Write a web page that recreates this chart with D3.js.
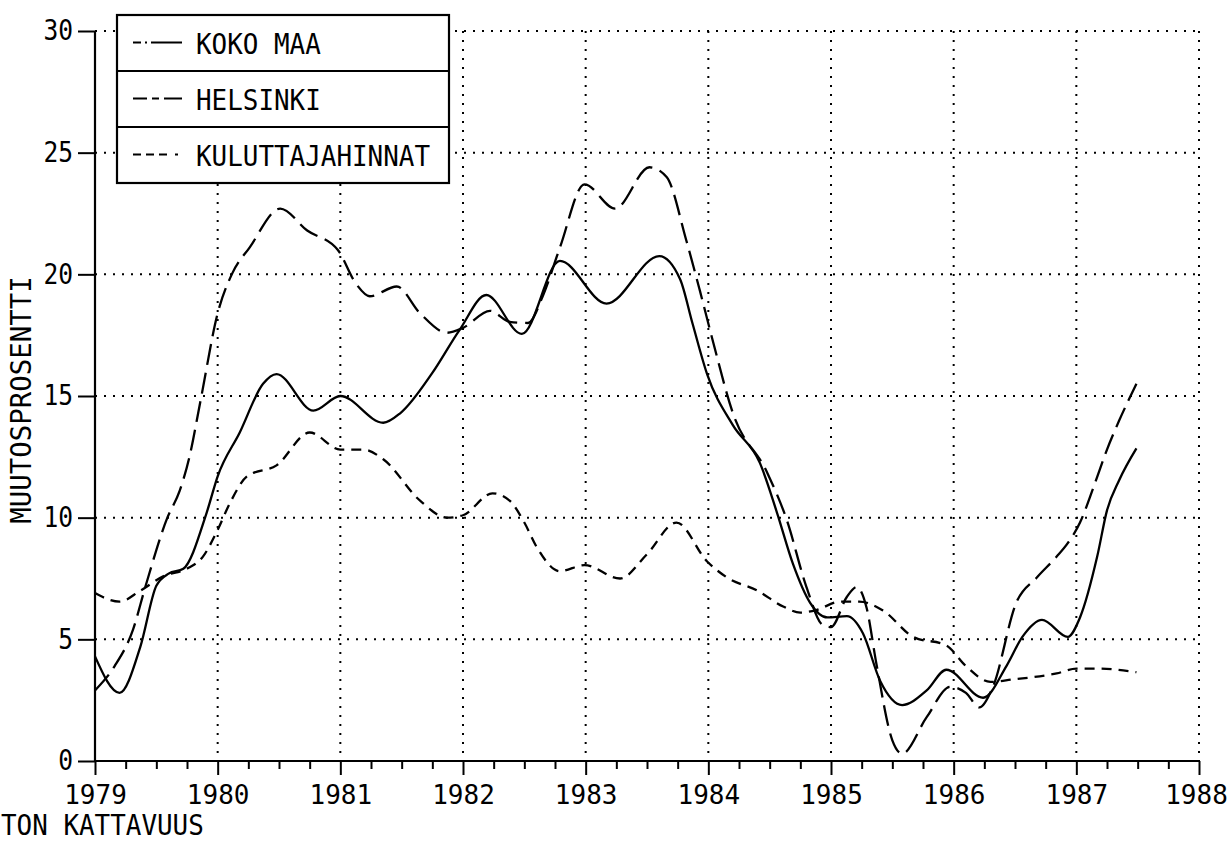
<!DOCTYPE html>
<html><head><meta charset="utf-8">
<script src="https://cdn.jsdelivr.net/npm/d3@7"></script>
<style>
html,body{margin:0;padding:0;background:#fff;}
svg text{font-family:'DejaVu Sans Mono',monospace;fill:#000;}
</style></head>
<body><svg id="c" width="1231" height="855"></svg>
<script>
// ---- data ----
const yearTicks = [1979,1980,1981,1982,1983,1984,1985,1986,1987,1988];
const valueTicks = [0,5,10,15,20,25,30];
const seriesNames = ["KOKO MAA","HELSINKI","KULUTTAJAHINNAT"];

const kokoX = [1979.0,1979.2,1979.37,1979.5,1979.6,1979.72,1979.91,1980.0,1980.18,1980.37,1980.48,1980.78,1981.0,1981.35,1981.49,1981.75,1981.97,1982.19,1982.48,1982.79,1983.17,1983.6,1983.77,1983.87,1983.99,1984.2,1984.42,1984.56,1984.69,1984.83,1984.97,1985.13,1985.26,1985.4,1985.58,1985.78,1985.94,1986.24,1986.43,1986.56,1986.72,1986.93,1987.03,1987.17,1987.25,1987.35,1987.49];
const kokoY = [4.3,2.8,4.7,7.2,7.7,7.9,10.2,11.7,13.5,15.5,15.9,14.4,15.0,13.9,14.3,15.95,17.7,19.15,17.55,20.55,18.8,20.75,19.8,18.0,15.9,13.8,12.25,10.2,8.1,6.5,5.9,5.95,5.25,3.3,2.3,2.9,3.75,2.6,3.9,5.1,5.8,5.1,5.9,8.4,10.3,11.55,12.85];

const helX = [1979.0,1979.16,1979.31,1979.41,1979.59,1979.69,1979.77,1979.86,1980.0,1980.12,1980.26,1980.51,1980.73,1980.98,1981.13,1981.24,1981.46,1981.65,1981.87,1982.0,1982.22,1982.38,1982.53,1982.65,1982.79,1982.99,1983.24,1983.52,1983.66,1983.82,1983.93,1984.04,1984.2,1984.48,1984.64,1984.8,1984.93,1985.0,1985.13,1985.21,1985.29,1985.37,1985.5,1985.58,1985.78,1985.97,1986.1,1986.21,1986.32,1986.51,1986.68,1986.84,1986.93,1987.03,1987.14,1987.25,1987.35,1987.49];
const helY = [2.9,3.9,5.4,7.15,10.0,11.1,12.5,14.8,18.4,20.05,21.1,22.7,21.8,21.0,19.6,19.1,19.5,18.4,17.6,17.8,18.5,18.05,18.0,19.1,21.1,23.7,22.7,24.4,24.0,21.4,19.35,17.2,14.3,11.85,9.9,7.15,5.6,5.5,6.75,7.15,6.3,4.0,0.85,0.3,1.8,3.05,2.8,2.2,3.05,6.5,7.55,8.4,8.95,9.8,11.25,12.8,14.0,15.5];

const kulX = [1979.0,1979.2,1979.37,1979.56,1979.75,1979.88,1980.0,1980.1,1980.24,1980.48,1980.75,1981.0,1981.19,1981.35,1981.65,1981.87,1982.0,1982.24,1982.38,1982.5,1982.6,1982.79,1982.99,1983.28,1983.5,1983.74,1983.99,1984.15,1984.4,1984.61,1984.75,1984.88,1985.07,1985.23,1985.42,1985.67,1985.94,1986.1,1986.3,1986.48,1986.84,1987.0,1987.17,1987.49];
const kulY = [6.9,6.55,7.0,7.6,7.9,8.4,9.5,10.6,11.7,12.15,13.5,12.8,12.8,12.4,10.7,10.0,10.1,11.0,10.7,9.8,8.8,7.8,8.05,7.5,8.5,9.8,8.2,7.55,7.0,6.35,6.1,6.2,6.55,6.55,6.2,5.1,4.75,3.9,3.25,3.35,3.6,3.8,3.8,3.65];

const bottomNote = "TON KATTAVUUS";
const yTitle = "MUUTOSPROSENTTI";

// ---- drawing ----
const svg = d3.select("#c");
const x = d3.scaleLinear().domain([1979,1988]).range([95,1199]);
const y = d3.scaleLinear().domain([0,30]).range([761,31]);
const CH = 15.6; // character advance of the plotter font

// grid
const grid = svg.append("g").attr("stroke","#000").attr("stroke-width",2).attr("stroke-dasharray","2,7").attr("fill","none");
yearTicks.slice(1).forEach(t=>{
  grid.append("line").attr("x1",x(t)).attr("x2",x(t)).attr("y1",y(30)).attr("y2",y(0));
});
valueTicks.slice(1).forEach(v=>{
  grid.append("line").attr("x1",x(1979)).attr("x2",x(1988)).attr("y1",y(v)).attr("y2",y(v));
});

// series
const line = d3.line().x(d=>x(d[0])).y(d=>y(d[1])).curve(d3.curveMonotoneX);
const series = [
  {pts:d3.zip(kokoX,kokoY), dash:null},
  {pts:d3.zip(helX,helY), dash:"21,8"},
  {pts:d3.zip(kulX,kulY), dash:"10,7"}
];
series.forEach(s=>{
  svg.append("path").attr("d",line(s.pts)).attr("fill","none").attr("stroke","#000")
    .attr("stroke-width",2.3).attr("stroke-dasharray",s.dash).attr("stroke-linecap","butt");
});

// axes
const xAxis = svg.append("g").attr("transform",`translate(0,${y(0)})`)
  .call(d3.axisBottom(x).tickValues(yearTicks).tickFormat(d3.format("d")).tickSize(14).tickPadding(3));
const minor = [];
for(let yr=1979; yr<1988; yr++){ [0.25,0.5,0.75].forEach(q=>minor.push(yr+q)); }
svg.append("g").attr("transform",`translate(0,${y(0)})`)
  .call(d3.axisBottom(x).tickValues(minor).tickFormat("").tickSize(8))
  .call(g=>g.select(".domain").remove());
const yAxis = svg.append("g").attr("transform",`translate(${x(1979)},0)`)
  .call(d3.axisLeft(y).tickValues(valueTicks).tickSize(17).tickPadding(5));
xAxis.select(".domain").remove(); yAxis.select(".domain").remove();
svg.append("line").attr("x1",x(1979)).attr("x2",x(1988)).attr("y1",y(0)).attr("y2",y(0)).attr("stroke","#000").attr("stroke-width",2.2);
svg.append("line").attr("x1",x(1979)).attr("x2",x(1979)).attr("y1",y(30)).attr("y2",y(0)).attr("stroke","#000").attr("stroke-width",2.2);
svg.selectAll(".tick line").attr("stroke","#000").attr("stroke-width",2);
yAxis.selectAll(".tick text").attr("font-size",28).attr("font-family","'DejaVu Sans Mono',monospace").attr("fill","#000")
  .attr("textLength",function(){return this.textContent.length*14.8;}).attr("lengthAdjust","spacingAndGlyphs");
xAxis.selectAll(".tick text").attr("font-size",26).attr("font-family","'DejaVu Sans Mono',monospace").attr("fill","#000")
  .attr("dy","1.0em").attr("dx",d=>d===1988?-3:0);

// y title
svg.append("text").attr("transform",`translate(31,400) rotate(-90)`).attr("text-anchor","middle")
  .attr("font-size",28).attr("textLength",yTitle.length*16.5).attr("lengthAdjust","spacingAndGlyphs").text(yTitle);

// bottom note
svg.append("text").attr("x",1).attr("y",835).attr("font-size",28)
  .attr("textLength",bottomNote.length*CH).attr("lengthAdjust","spacingAndGlyphs").text(bottomNote);

// legend
const lg = svg.append("g");
const lx0=117, lx1=449, rows=[15,71,127,183];
lg.append("rect").attr("x",lx0).attr("y",rows[0]).attr("width",lx1-lx0).attr("height",rows[3]-rows[0])
  .attr("fill","#fff").attr("stroke","#000").attr("stroke-width",2.2);
[rows[1],rows[2]].forEach(r=>lg.append("line").attr("x1",lx0).attr("x2",lx1).attr("y1",r).attr("y2",r).attr("stroke","#000").attr("stroke-width",2.2));
const legDash = ["8,4,2,4,36","14,5,7,5,20","8,5,8,5,8,8,3"];
seriesNames.forEach((n,i)=>{
  const cy = (rows[i]+rows[i+1])/2;
  lg.append("line").attr("x1",133).attr("x2",182).attr("y1",cy-0.5).attr("y2",cy-0.5)
    .attr("stroke","#000").attr("stroke-width",2).attr("stroke-dasharray",legDash[i]);
  lg.append("text").attr("x",196).attr("y",cy+10.5).attr("font-size",28)
    .attr("textLength",n.length*CH).attr("lengthAdjust","spacingAndGlyphs").text(n);
});
</script></body></html>
